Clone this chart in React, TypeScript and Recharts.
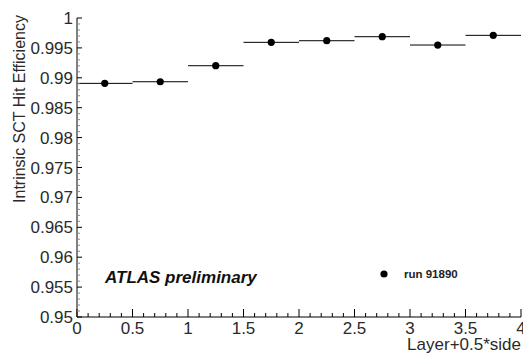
import { ScatterChart, Scatter, XAxis, YAxis, ErrorBar } from 'recharts';

// layer + 0.5*side bin centres, measured efficiency per bin
const layerCentres = [0.25, 0.75, 1.25, 1.75, 2.25, 2.75, 3.25, 3.75];
const efficiency = [0.98907, 0.98934, 0.99202, 0.99593, 0.9962, 0.99687, 0.99548, 0.9971];
const binHalfWidth = [0.25, 0.25, 0.25, 0.25, 0.25, 0.25, 0.25, 0.25];

const xMajorTicks = [0, 0.5, 1, 1.5, 2, 2.5, 3, 3.5, 4];
const yMajorTicks = [0.95, 0.955, 0.96, 0.965, 0.97, 0.975, 0.98, 0.985, 0.99, 0.995, 1];

const seriesName = 'run 91890';

const points = layerCentres.map((x, i) => ({ x, y: efficiency[i], xerr: binHalfWidth[i] }));

const steps = (from: number, to: number, step: number) => {
  const out: number[] = [];
  const n = Math.round((to - from) / step);
  for (let i = 0; i <= n; i++) out.push(Number((from + i * step).toFixed(4)));
  return out;
};
const xTicks = steps(0, 4, 0.1);
const yTicks = steps(0.95, 1, 0.001);

const isMajor = (v: number, majors: number[]) => majors.some((m) => Math.abs(m - v) < 1e-6);
const fmt = (v: number) => String(Number(v.toFixed(3)));

const FONT = '"Liberation Sans", Arial, Helvetica, sans-serif';
const TXT = '#2a2a2a';

function BottomTick({ x, y, payload }: any) {
  const major = isMajor(payload.value, xMajorTicks);
  return (
    <g>
      <line x1={x} x2={x} y1={y} y2={y - (major ? 8 : 4)} stroke="#000" strokeWidth={1} />
      {major && (
        <text x={x} y={y + 17} textAnchor="middle" fontSize={17} fontFamily={FONT} fill={TXT}>
          {fmt(payload.value)}
        </text>
      )}
    </g>
  );
}

function TopTick({ x, y, payload }: any) {
  const major = isMajor(payload.value, xMajorTicks);
  return <line x1={x} x2={x} y1={y} y2={y + (major ? 8 : 4)} stroke="#000" strokeWidth={1} />;
}

function LeftTick({ x, y, payload }: any) {
  const major = isMajor(payload.value, yMajorTicks);
  return (
    <g>
      <line x1={x} x2={x + (major ? 5 : 3)} y1={y} y2={y} stroke={major ? '#000' : '#888'} strokeWidth={1} />
      {major && (
        <text x={x - 4} y={y + 6} textAnchor="end" fontSize={17} fontFamily={FONT} fill={TXT}>
          {fmt(payload.value)}
        </text>
      )}
    </g>
  );
}

function RightTick({ x, y, payload }: any) {
  const major = isMajor(payload.value, yMajorTicks);
  return <line x1={x} x2={x - (major ? 12 : 6)} y1={y} y2={y} stroke="#000" strokeWidth={1} />;
}

function Dot({ cx, cy }: any) {
  return <circle cx={cx} cy={cy} r={3.6} fill="#000" />;
}

export default function App() {
  return (
    <div style={{ position: 'absolute', left: 0, top: 0, width: 523, height: 354, background: '#fff' }}>
      <ScatterChart width={523} height={354} margin={{ top: 18, right: 2, bottom: 7, left: 17 }}>
        <XAxis
          xAxisId="bottom"
          type="number"
          dataKey="x"
          domain={[0, 4]}
          ticks={xTicks}
          interval={0}
          height={30}
          tickSize={0}
          tickMargin={0}
          tick={<BottomTick />}
          axisLine={{ stroke: '#000' }}
          label={(props: any) => {
            const vb = props.viewBox;
            return (
              <text x={vb.x + vb.width} y={350} textAnchor="end" fontSize={17} fontFamily={FONT} fill={TXT}>
                Layer+0.5*side
              </text>
            );
          }}
        />
        <XAxis
          xAxisId="top"
          orientation="top"
          type="number"
          dataKey="x"
          domain={[0, 4]}
          ticks={xTicks}
          interval={0}
          height={0}
          tickSize={0}
          tickMargin={0}
          tick={<TopTick />}
          axisLine={{ stroke: '#000' }}
        />
        <YAxis
          yAxisId="left"
          type="number"
          dataKey="y"
          domain={[0.95, 1]}
          ticks={yTicks}
          interval={0}
          width={60}
          tickSize={0}
          tickMargin={0}
          tick={<LeftTick />}
          axisLine={{ stroke: '#000' }}
          label={(props: any) => {
            const vb = props.viewBox;
            const cx = vb.x + 8;
            return (
              <text
                x={cx}
                y={109}
                transform={`rotate(-90 ${cx} 109)`}
                textAnchor="middle"
                fontSize={16}
                fontFamily={FONT}
                fill={TXT}
              >
                Intrinsic SCT Hit Efficiency
              </text>
            );
          }}
        />
        <YAxis
          yAxisId="right"
          orientation="right"
          type="number"
          dataKey="y"
          domain={[0.95, 1]}
          ticks={yTicks}
          interval={0}
          width={0}
          tickSize={0}
          tickMargin={0}
          tick={<RightTick />}
          axisLine={{ stroke: '#555', strokeWidth: 2 }}
        />
        <Scatter
          data={points}
          xAxisId="top"
          yAxisId="right"
          shape={() => <g />}
          isAnimationActive={false}
        />
        <Scatter
          name={seriesName}
          data={points}
          xAxisId="bottom"
          yAxisId="left"
          shape={<Dot />}
          isAnimationActive={false}
        >
          <ErrorBar dataKey="xerr" direction="x" width={0} stroke="#000" strokeWidth={1} isAnimationActive={false} />
        </Scatter>
      </ScatterChart>
      <svg width={523} height={354} style={{ position: 'absolute', left: 0, top: 0, pointerEvents: 'none' }}>
        <text x={105} y={283} fontSize={17} fontWeight="bold" fontStyle="italic" fontFamily={FONT} fill="#111">
          ATLAS preliminary
        </text>
        <circle cx={384} cy={274} r={3.6} fill="#000" />
        <text x={404} y={278} fontSize={11.5} fontWeight="bold" fontFamily={FONT} fill="#222">
          {seriesName}
        </text>
      </svg>
    </div>
  );
}
